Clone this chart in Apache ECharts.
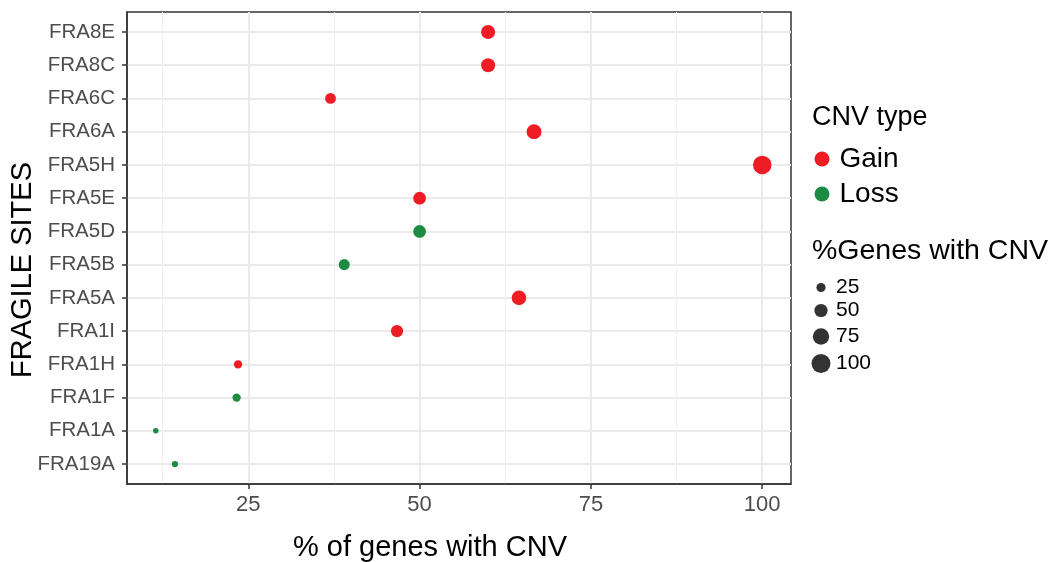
<!DOCTYPE html>
<html>
<head>
<meta charset="utf-8">
<script src="https://cdn.jsdelivr.net/npm/echarts@6/dist/echarts.min.js"></script>
<style>
  html, body { margin: 0; padding: 0; background: #fff; }
  #chart { width: 1055px; height: 562px; }
</style>
</head>
<body>
<div id="chart"></div>
<script>
// fragile sites, top to bottom as in the plot
const sites = ['FRA8E', 'FRA8C', 'FRA6C', 'FRA6A', 'FRA5H', 'FRA5E', 'FRA5D',
  'FRA5B', 'FRA5A', 'FRA1I', 'FRA1H', 'FRA1F', 'FRA1A', 'FRA19A'];
const pctGenes = [60, 60, 37, 66.7, 100, 50, 50, 39, 64.5, 46.7, 23.5, 23.3, 11.5, 14.3];
const cnvType = ['Gain', 'Gain', 'Gain', 'Gain', 'Gain', 'Gain', 'Loss', 'Loss',
  'Gain', 'Gain', 'Gain', 'Loss', 'Loss', 'Loss'];
const xTicks = [25, 50, 75, 100];
const xMinorTicks = [12.5, 37.5, 62.5, 87.5];
const sizeBreaks = [25, 50, 75, 100];
const sizeLegendY = [288, 311, 337, 364];

const colors = { Gain: '#EE1D25', Loss: '#1D8C42' };
const font = "'Liberation Sans', Arial, Helvetica, sans-serif";

// ggplot-like area scale: diameter linear in sqrt(value)
const vMin = Math.min(...pctGenes), vMax = Math.max(...pctGenes);
function dotSize(v) {
  const t = (Math.sqrt(v) - Math.sqrt(vMin)) / (Math.sqrt(vMax) - Math.sqrt(vMin));
  return 5.5 + t * 13;
}

function seriesFor(type) {
  const data = [];
  sites.forEach((s, i) => {
    if (cnvType[i] === type) data.push([pctGenes[i], i]);
  });
  return {
    name: type,
    type: 'scatter',
    data: data,
    symbol: 'circle',
    symbolSize: d => dotSize(d[0]),
    itemStyle: { color: colors[type], opacity: 1 },
    emphasis: { disabled: true },
    z: 5
  };
}

const chart = echarts.init(document.getElementById('chart'));

// one legend per size break, icons centred on x=821, text starting at x=836
const sizeLegends = sizeBreaks.map((b, i) => {
  const s = dotSize(b) + 0.5;
  return {
    left: 821 - s / 2,
    top: sizeLegendY[i] - 11,
    orient: 'vertical',
    padding: 0,
    selectedMode: false,
    icon: 'circle',
    itemWidth: s,
    itemHeight: s,
    textStyle: { fontSize: 21, color: '#000', fontFamily: font, padding: [0, 0, 0, 10 - s / 2] },
    data: [{ name: String(b), itemStyle: { color: '#000' } }]
  };
});

const tickStyle = { color: '#333', width: 1.5 };

const option = {
  animation: false,
  backgroundColor: '#fff',
  textStyle: { fontFamily: font },
  grid: {
    left: 127, right: 264, top: 12, bottom: 78,
    outerBoundsMode: 'none',
    containLabel: false,
    show: true, borderColor: '#333', borderWidth: 1.5, backgroundColor: '#fff'
  },
  xAxis: [
    {
      type: 'value',
      min: 7.3,
      max: 104.2,
      axisLine: { show: true, onZero: false, lineStyle: tickStyle },
      axisTick: { show: true, length: 5, customValues: xTicks, lineStyle: tickStyle },
      axisLabel: { customValues: xTicks, fontSize: 22, color: '#4D4D4D', margin: 10, fontFamily: font },
      splitLine: { show: true, lineStyle: { color: '#EBEBEB', width: 2 } }
    },
    {
      type: 'value',
      min: 7.3,
      max: 104.2,
      position: 'bottom',
      axisLine: { show: false, onZero: false },
      axisTick: { show: false, customValues: xMinorTicks },
      axisLabel: { show: false, customValues: xMinorTicks },
      splitLine: { show: true, lineStyle: { color: '#F0F0F0', width: 1 } }
    }
  ],
  yAxis: {
    type: 'value',
    min: -0.6,
    max: sites.length - 1 + 0.6,
    inverse: true,
    axisLine: { show: true, onZero: false, lineStyle: tickStyle },
    axisTick: { show: true, length: 5, customValues: sites.map((s, i) => i), lineStyle: tickStyle },
    axisLabel: {
      customValues: sites.map((s, i) => i),
      formatter: v => sites[Math.round(v)],
      fontSize: 20.5, color: '#4D4D4D', margin: 12, fontFamily: font
    },
    splitLine: { show: true, lineStyle: { color: '#EBEBEB', width: 2 } }
  },
  legend: [
    {
      left: 814.5,
      top: 145,
      orient: 'vertical',
      padding: 0,
      itemGap: 7,
      selectedMode: false,
      icon: 'circle',
      itemWidth: 15,
      itemHeight: 15,
      textStyle: { fontSize: 28, color: '#000', fontFamily: font, padding: [0, 0, 0, 5] },
      data: ['Gain', 'Loss']
    },
    ...sizeLegends
  ],
  graphic: [
    {
      type: 'text', left: 812, top: 104,
      style: { text: 'CNV type', fontSize: 27, fill: '#000', fontFamily: font }
    },
    {
      type: 'text', left: 812, top: 237,
      style: { text: '%Genes with CNV', fontSize: 28.5, fill: '#000', fontFamily: font }
    },
    {
      type: 'text', x: 430, y: 548,
      style: { text: '% of genes with CNV', fontSize: 29, fill: '#000', fontFamily: font,
        align: 'center', verticalAlign: 'middle' }
    },
    {
      type: 'text', x: 23, y: 270, rotation: Math.PI / 2,
      style: { text: 'FRAGILE SITES', fontSize: 29, fill: '#000', fontFamily: font,
        align: 'center', verticalAlign: 'middle' }
    }
  ],
  series: [
    seriesFor('Gain'),
    seriesFor('Loss'),
    ...sizeBreaks.map(b => ({
      name: String(b), type: 'scatter', data: [], itemStyle: { color: '#000' }
    }))
  ]
};

chart.setOption(option);
</script>
</body>
</html>
